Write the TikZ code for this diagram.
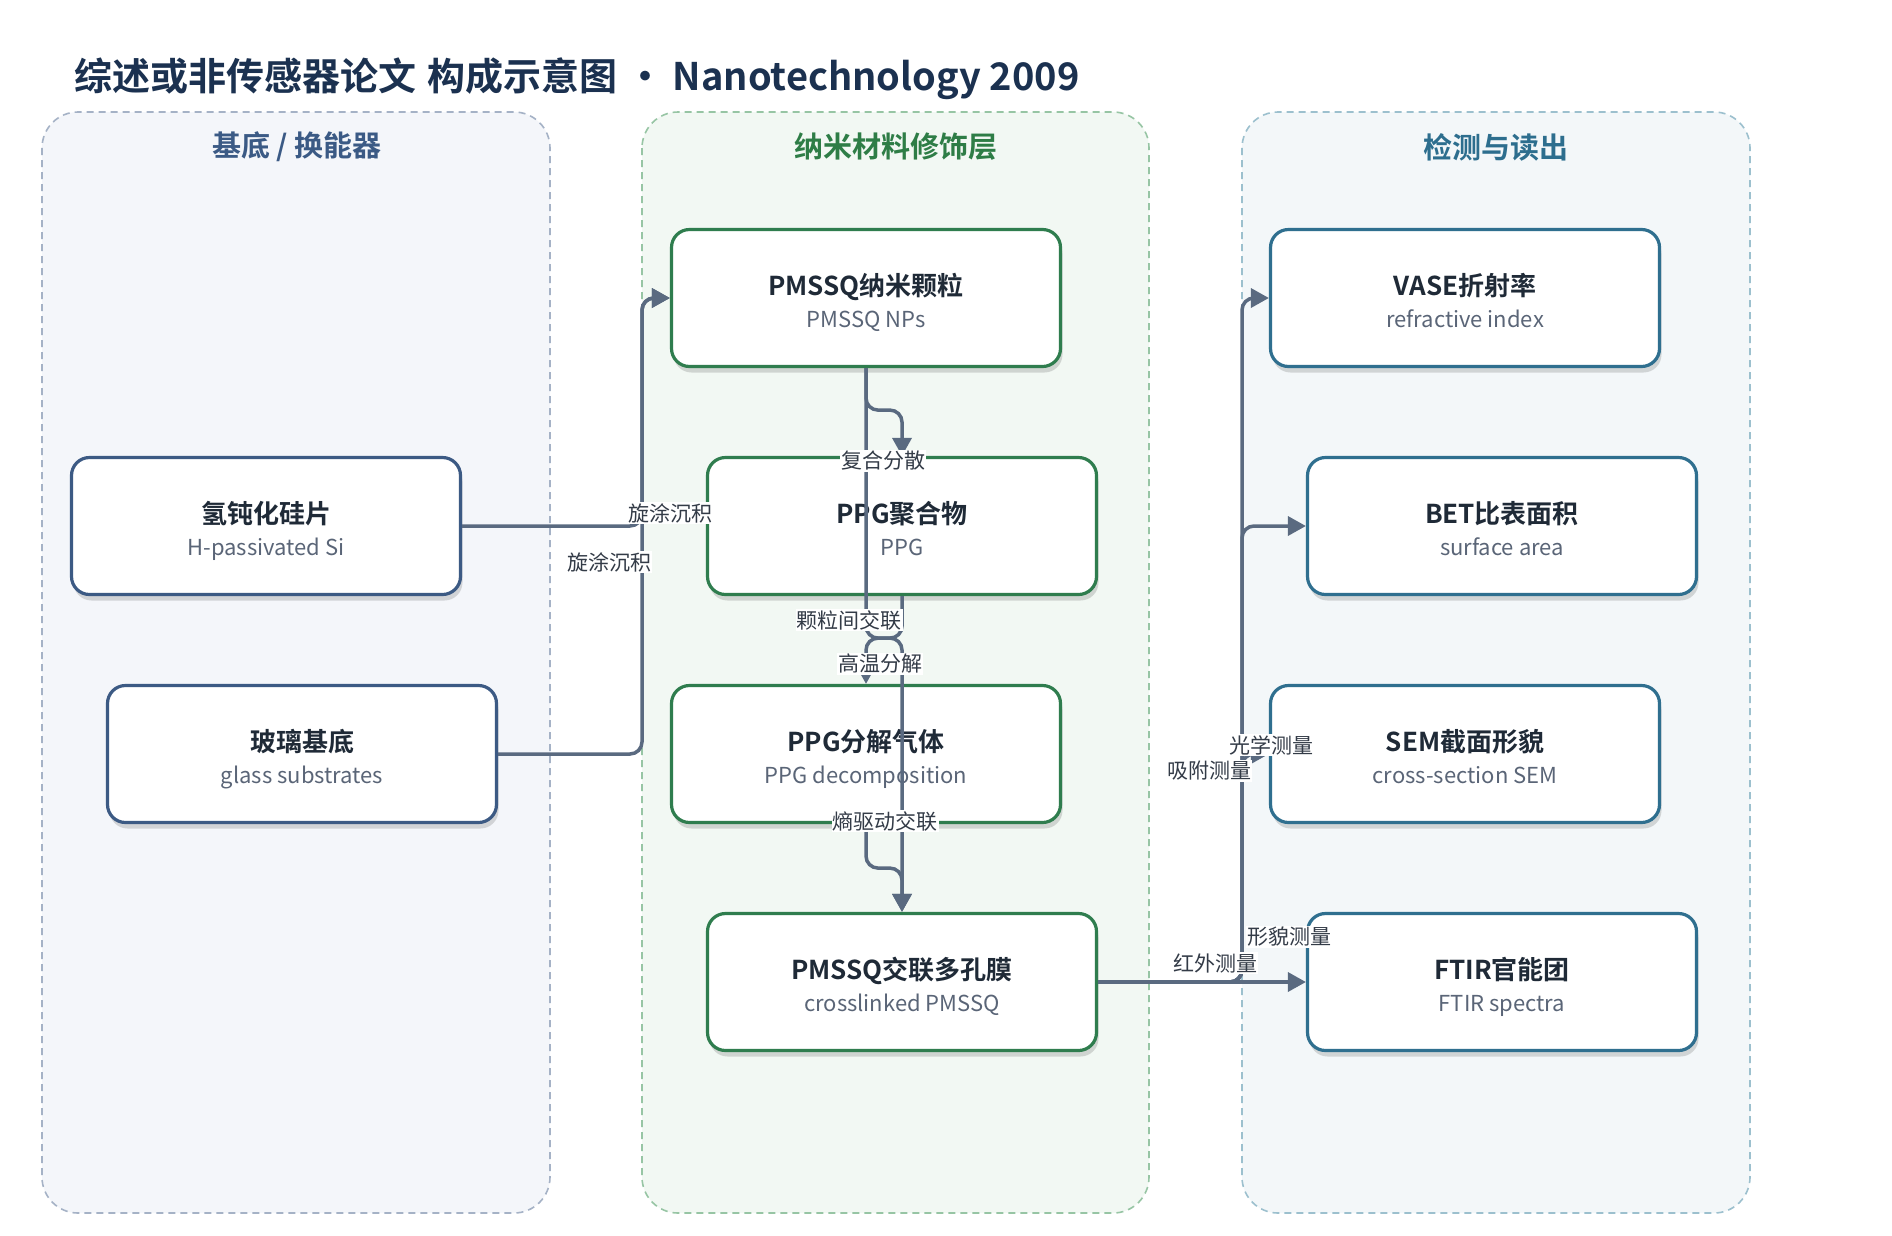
\documentclass[tikz,border=0pt]{standalone}
\usepackage{fontspec}
\setmainfont{Noto Sans CJK SC}[BoldFont={Noto Sans CJK SC Bold}]
\usetikzlibrary{arrows.meta,shadows}
\definecolor{ttlc}{HTML}{1B3150}
\definecolor{laneAfill}{HTML}{F4F6FA}
\definecolor{laneAline}{HTML}{A5B2C6}
\definecolor{laneAtxt}{HTML}{3B5A85}
\definecolor{laneBfill}{HTML}{F2F8F3}
\definecolor{laneBline}{HTML}{97C5A4}
\definecolor{laneBtxt}{HTML}{2E7D46}
\definecolor{laneCfill}{HTML}{F3F7F9}
\definecolor{laneCline}{HTML}{9CC0CE}
\definecolor{laneCtxt}{HTML}{2D6E8E}
\definecolor{bordA}{HTML}{3C5A84}
\definecolor{bordB}{HTML}{2F7D4E}
\definecolor{bordC}{HTML}{2F6F8F}
\definecolor{edgec}{HTML}{5A6A80}
\definecolor{lblc}{HTML}{333B47}
\definecolor{nodet}{HTML}{1F2A37}
\definecolor{nodes}{HTML}{5A6577}
\newcommand\mybox[6]{%
  \node[nbox,draw=#4] (#1) at (#2,#3) {};
  \node[ntitle,anchor=base] (#1-t) at (#2,#3-3) {#5};
  \node[nsub,anchor=base] (#1-s) at (#2,#3+29) {#6};
}
\begin{document}
\begin{tikzpicture}[x=1pt,y=-1pt,
  lane/.style={rounded corners=36pt,dash pattern=on 7pt off 5pt,line width=1.6pt},
  lanetitle/.style={font=\fontsize{29}{34}\selectfont\bfseries,anchor=center},
  nbox/.style={rectangle,rounded corners=18pt,minimum width=389pt,minimum height=137pt,
    line width=3.2pt,fill=white,
    drop shadow={shadow xshift=2pt,shadow yshift=-6pt,opacity=0.14,fill=black}},
  ntitle/.style={font=\fontsize{26}{30}\selectfont\bfseries,text=nodet,inner sep=0pt},
  nsub/.style={font=\fontsize{22}{26}\selectfont,text=nodes,inner sep=0pt},
  edge/.style={draw=edgec,line width=3.5pt,rounded corners=12pt,
    -{Triangle[length=18pt,width=19pt]}},
  lbl/.style={font=\fontsize{21}{24}\selectfont,text=lblc,fill=white,inner sep=1pt,anchor=center}
]
\useasboundingbox (0,0) rectangle (1892,1235);
\fill[white] (0,0) rectangle (1892,1235);

% title
\node[anchor=base west,inner sep=0pt,text=ttlc,font=\fontsize{38}{42}\selectfont\bfseries] (title) at (74,90)
  {综述或非传感器论文\hspace{0.3em}构成示意图 • Nanotechnology 2009};

% lanes
\draw[lane,fill=laneAfill,draw=laneAline] (42,112) rectangle (550,1213);
\draw[lane,fill=laneBfill,draw=laneBline] (642,112) rectangle (1149,1213);
\draw[lane,fill=laneCfill,draw=laneCline] (1242,112) rectangle (1750,1213);
\node[lanetitle,text=laneAtxt] (tA) at (297,147) {基底 / 换能器};
\node[lanetitle,text=laneBtxt] (tB) at (896,147) {纳米材料修饰层};
\node[lanetitle,text=laneCtxt] (tC) at (1496,147) {检测与读出};

% nodes
\mybox{si}{266}{526}{bordA}{氢钝化硅片}{H-passivated Si}
\mybox{glass}{302}{754}{bordA}{玻璃基底}{glass substrates}
\mybox{nps}{866}{298}{bordB}{PMSSQ纳米颗粒}{PMSSQ NPs}
\mybox{ppg}{902}{526}{bordB}{PPG聚合物}{PPG}
\mybox{dec}{866}{754}{bordB}{PPG分解气体}{PPG decomposition}
\mybox{cl}{902}{982}{bordB}{PMSSQ交联多孔膜}{crosslinked PMSSQ}
\mybox{vase}{1465}{298}{bordC}{VASE折射率}{refractive index}
\mybox{bet}{1502}{526}{bordC}{BET比表面积}{surface area}
\mybox{sem}{1465}{754}{bordC}{SEM截面形貌}{cross-section SEM}
\mybox{ftir}{1502}{982}{bordC}{FTIR官能团}{FTIR spectra}

% junction columns
\coordinate (jl) at (642,0);
\coordinate (jr) at (1242,0);

% edges
\draw[edge] (si.east) -- (si.east -| jl) -- (nps.west -| jl) -- (nps.west);
\draw[edge] (glass.east) -- (glass.east -| jl) -- (nps.west -| jl) -- (nps.west);
\draw[edge] (nps.south) -- ++(0,42) -| (ppg.north);
\draw[edge] (nps.south) -- ++(0,270) -| (cl.north);
\draw[edge] (ppg.south) -- ++(0,42) -| (dec.north);
\draw[edge] (dec.south) -- ++(0,44) -| (cl.north);
\draw[edge] (cl.east) -- (cl.east -| jr) -- (vase.west -| jr) -- (vase.west);
\draw[edge] (cl.east) -- (cl.east -| jr) -- (bet.west -| jr) -- (bet.west);
\draw[edge] (cl.east) -- (cl.east -| jr) -- (sem.west -| jr) -- (sem.west);
\draw[edge] (cl.east) -- (ftir.west);

% edge labels
\node[lbl] (l1) at (670,513) {旋涂沉积};
\node[lbl] (l2) at (609,562) {旋涂沉积};
\node[lbl] (l3) at (883,461) {复合分散};
\node[lbl] (l4) at (849,620) {颗粒间交联};
\node[lbl] (l5) at (880,664) {高温分解};
\node[lbl] (l6) at (885,821) {熵驱动交联};
\node[lbl] (l7) at (1271,745) {光学测量};
\node[lbl] (l8) at (1209,771) {吸附测量};
\node[lbl] (l9) at (1289,937) {形貌测量};
\node[lbl] (l10) at (1215,963) {红外测量};
\end{tikzpicture}
\end{document}
